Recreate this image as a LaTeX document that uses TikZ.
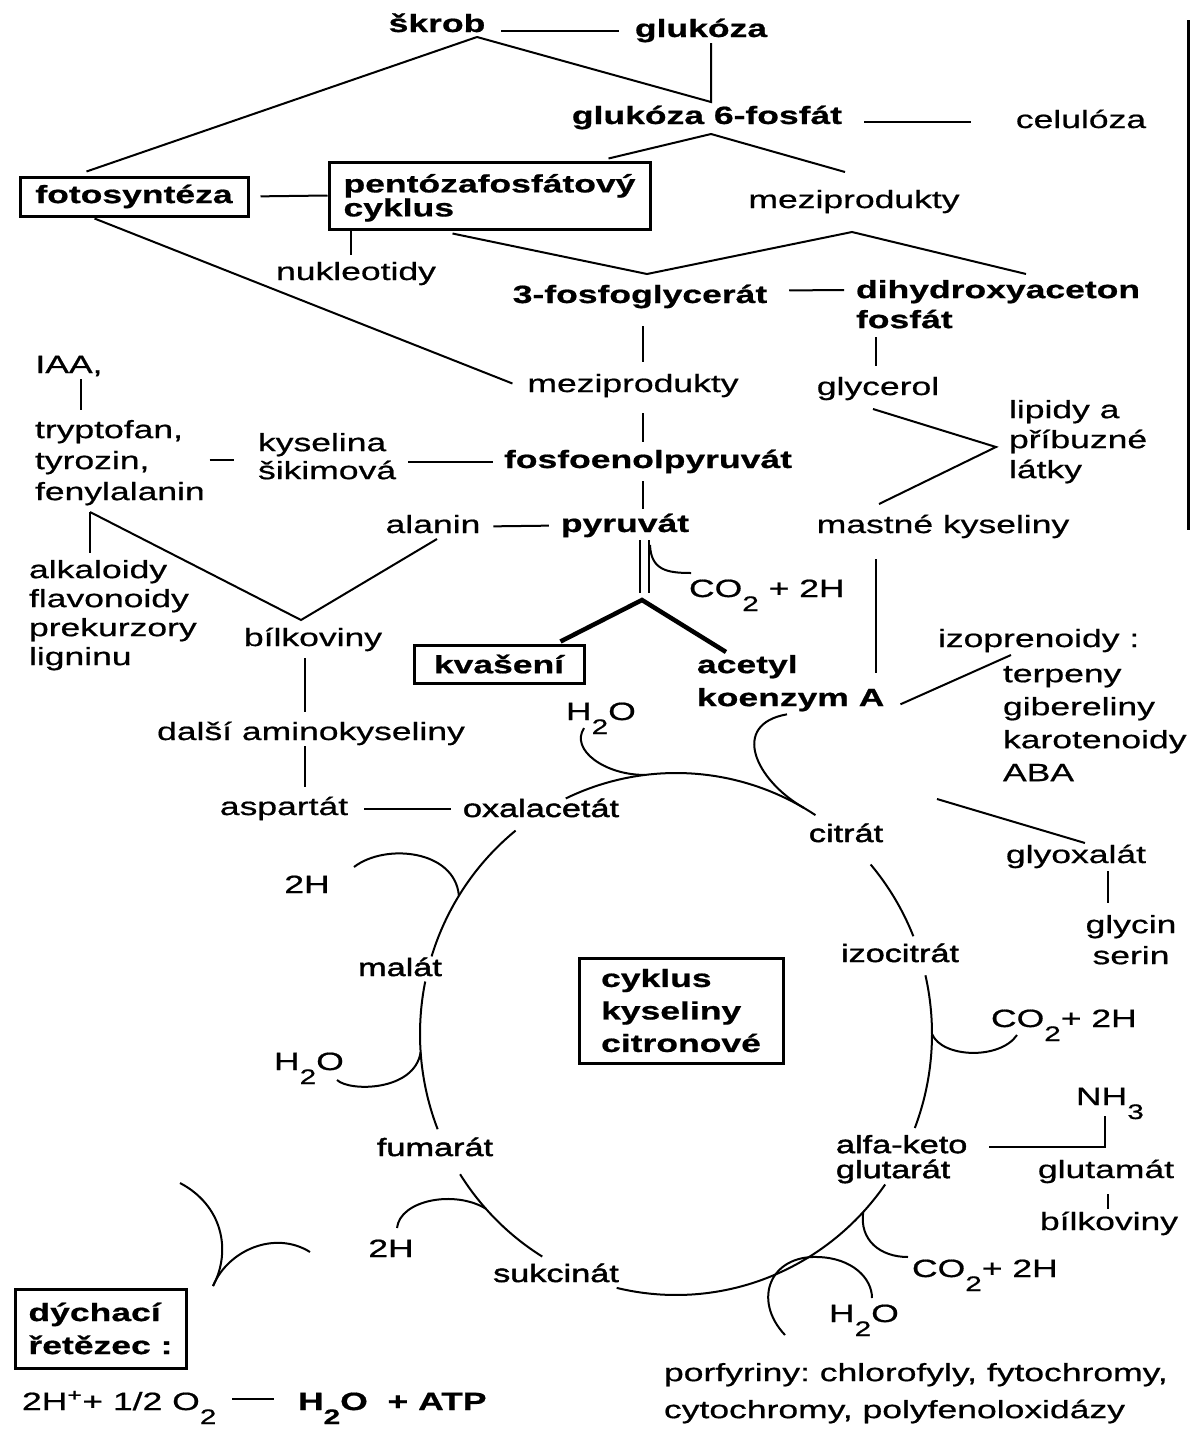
\documentclass[tikz,border=0pt]{standalone}
\usepackage{fontspec}
\setmainfont{Liberation Sans}[FakeStretch=1.42,FakeBold=0.7]
\newfontfamily\cycfont{Liberation Sans}[FakeStretch=1.37,FakeBold=1.8]
\usetikzlibrary{calc}
\frenchspacing

\newcommand{\dolu}[1]{\raisebox{-14pt}{\fontsize{21}{21}\selectfont #1}}

\begin{document}
\begin{tikzpicture}[x=1pt,y=-1pt,line width=2pt,
  txt/.style={inner sep=0pt,text height=18pt,text depth=5pt,anchor=base,
    font=\fontsize{25}{30}\selectfont},
  txtb/.style={txt,font=\fontsize{25}{30}\selectfont\bfseries},
  txtc/.style={txt,font=\cycfont\fontsize{25}{30}\selectfont},
  blk/.style={inner sep=0pt,align=left,anchor=north west,
    font=\fontsize{25}{30}\selectfont},
  blkb/.style={blk,font=\fontsize{25}{30}\selectfont\bfseries},
  blkc/.style={blk,font=\cycfont\fontsize{25}{30}\selectfont},
  cbox/.style={draw,line width=3pt,inner sep=0pt,align=left,
    font=\fontsize{25}{30}\selectfont\bfseries},
  fatconn/.style={line width=4.5pt}]

\fill[white] (0,0) rectangle (1191,1430);
\useasboundingbox (0,0) rectangle (1191,1430);

\def\kcx{676}
\def\kcy{1034}
\def\krx{256}
\def\kry{261}

% top
\node[txtb] (skrob) at (437,32) {škrob};
\node[txtb] (gluk) at (701,37) {glukóza};
\node[txtb] (g6f) at (707,124) {glukóza 6-fosfát};
\node[txt] (celul) at (1081,128) {celulóza};
\node[cbox,minimum width=228pt,minimum height=39pt] (foto) at (134,196.5) {fotosyntéza};
\node[cbox,minimum width=321pt,minimum height=67pt] (pento) at (489.5,195.5) {\rule{0pt}{23pt}pentózafosfátový\\[-6pt]cyklus};
\node[txt] (mezi1) at (854,208) {meziprodukty};
\node[txt] (nukl) at (356,280) {nukleotidy};
\node[txtb] (pg3) at (640,303) {3-fosfoglycerát};
\node[blkb] (dhap) at (855,279) {dihydroxyaceton\\fosfát};

% middle
\node[txt] (iaa) at (69,373) {IAA,};
\node[blk] (trp) at (34,419) {tryptofan,\\[1pt]tyrozin,\\[1pt]fenylalanin};
\node[blk] (kys) at (257,432) {kyselina\\[-2pt]šikimová};
\node[txt] (mezi2) at (633,392) {meziprodukty};
\node[txt] (glyc) at (878,395) {glycerol};
\node[blk] (lip) at (1008,399) {lipidy a\\příbuzné\\látky};
\node[txtb] (pep) at (648,468) {fosfoenolpyruvát};
\node[txt] (alan) at (433,533) {alanin};
\node[txtb] (pyr) at (625,532) {pyruvát};
\node[txt] (mastne) at (943,533) {mastné kyseliny};
\node[blk] (alk) at (28,559) {alkaloidy\\[-1pt]flavonoidy\\[-1pt]prekurzory\\[-1pt]ligninu};
\node[txt,anchor=base west] (co2a) at (688,597) {CO\dolu{2} + 2H};
\node[txt] (bilk1) at (313,646) {bílkoviny};
\node[cbox,minimum width=170pt,minimum height=38pt] (kvas) at (499,664) {kvašení};
\node[blkb] (acet) at (696,654) {acetyl\\[3pt]koenzym A};
\node[txt,anchor=base west] (izop) at (937,647) {izoprenoidy :};
\node[blk] (terp) at (1002,665) {terpeny\\[3pt]gibereliny\\[3pt]karotenoidy\\[3pt]ABA};
\node[txt,anchor=base west] (h2oa) at (565,720) {H\dolu{2}O};
\node[txt] (dalsi) at (311,740) {další aminokyseliny};

% cycle
\node[txt] (asp) at (284,815) {aspartát};
\node[txtc] (oxal) at (541,817) {oxalacetát};
\node[txtc] (citr) at (846,842) {citrát};
\node[txt] (glyox) at (1076,863) {glyoxalát};
\node[blk,align=center,anchor=north] (glycin) at (1131,914) {glycin\\[1pt]serin};
\node[txt] (twoHa) at (307,893) {2H};
\node[txtc] (izoc) at (900,962) {izocitrát};
\node[txtc] (malat) at (400,976) {malát};
\node[cbox,minimum width=204pt,minimum height=105pt] (cykl) at (681,1010.5) {cyklus\\[2.5pt]kyseliny\\[2.5pt]citronové};
\node[txt,anchor=base west] (co2b) at (990,1027) {CO\dolu{2}+ 2H};
\node[txt,anchor=base west] (h2ob) at (273,1070) {H\dolu{2}O};
\node[txt,anchor=base west] (nh3) at (1075,1105) {NH\dolu{3}};
\node[blkc] (akg) at (835,1134) {alfa-keto\\[-5pt]glutarát};
\node[txtc] (fumar) at (435,1156) {fumarát};
\node[txt] (glutam) at (1106,1178) {glutamát};
\node[txt] (bilk2) at (1109,1230) {bílkoviny};
\node[txt] (twoHb) at (391,1257) {2H};
\node[txt,anchor=base west] (co2c) at (911,1277) {CO\dolu{2}+ 2H};
\node[txtc] (sukc) at (556,1282) {sukcinát};
\node[txt,anchor=base west] (h2oc) at (828,1322) {H\dolu{2}O};

% bottom
\node[cbox,minimum width=171pt,minimum height=79pt] (dych) at (100.5,1328.5) {dýchací\\[3pt]řetězec :};
\node[blk] (porf) at (663,1362) {porfyriny: chlorofyly, fytochromy,\\[7pt]cytochromy, polyfenoloxidázy};
\node[txt,anchor=base west] (eql) at (21,1410) {2H\textsuperscript{+}+ 1/2 O\dolu{2}};
\node[txtb,anchor=base west] (eqr) at (297,1410) {H\dolu{2}O \ + ATP};

% junctions
\coordinate (skrobV) at (477,37);
\coordinate (g6fV) at (711,102);
\coordinate (g6fW) at (711,134);
\coordinate (pgV) at (647,274);
\coordinate (dhV) at (852,232);
\coordinate (lipV) at (996,447);
\coordinate (fenV) at (90,512);
\coordinate (bilkV) at (301,620);
\coordinate (pyrV) at (642,600);
\coordinate (nhC) at (1105,1147);
\coordinate (cyc) at (\kcx,\kcy);
\coordinate (dychJ) at (213,1286);
% vertical axes
\coordinate (osaA) at (643,0);
\coordinate (osaB) at (876,0);
\coordinate (osaC) at (81,0);
\coordinate (osaD) at (305,0);
\coordinate (osaE) at (1108,0);

% top lines
\draw[shorten <=15pt,shorten >=15pt] (gluk.west -| skrob.east) -- (gluk.west);
\draw (skrobV) -- ($(foto.north west)+(68,-4)$);
\draw (skrobV) -- (g6fV) -- (g6fV |- gluk.south);
\draw (g6fW) -- ($(pento.north east)+(-43,-2)$);
\draw (g6fW) -- ($(mezi1.north)+(-9,-17)$);
\draw[shorten <=21pt,shorten >=44pt] (celul.west -| g6f.east) -- (celul.west);
\draw[shorten <=11pt] (foto.east) -- (pento.west);
\coordinate (nuklT) at ($(pento.south west)+(23,0)$);
\draw[shorten >=6pt] (nuklT) -- (nuklT |- nukl.north);
\draw ($(pento.south west)+(125,3)$) -- (pgV) -- (dhV) -- ($(dhap.north west)+(171,-5)$);
\draw ($(foto.south west)+(76,1)$) -- ($(mezi2.west)+(-14,-2)$);
\draw[shorten <=21pt,shorten >=11pt] ($(pg3.east)+(0,-6)$) -- ($(dhap.north west)+(0,11)$);

% spine
\draw[shorten <=17pt,shorten >=11pt] (osaA |- pg3.south) -- (osaA |- mezi2.north);
\draw[shorten <=15pt,shorten >=7pt] (osaA |- mezi2.south) -- (osaA |- pep.north);
\draw[shorten <=7pt,shorten >=4pt] (osaA |- pep.south) -- (osaA |- pyr.north);
\draw[shorten <=8pt,shorten >=10pt] (osaB |- dhap.south) -- (osaB |- glyc.north);
\draw ($(glyc.south)+(-5,8)$) -- (lipV) -- ($(mastne.north)+(-64,-10)$);
\draw[shorten <=20pt] (osaB |- mastne.south) -- ($(osaB |- acet.north)+(0,19)$);

% left side
\draw[shorten >=9pt] (osaC |- iaa.south) -- (osaC |- trp.north);
\coordinate (kysY) at ($(kys.west)+(0,4)$);
\draw[shorten <=4pt,shorten >=23pt] (trp.east |- kysY) -- (kysY);
\draw[shorten <=11pt,shorten >=10pt] (kys.east |- pep.west) -- (pep.west);
\draw[shorten <=12pt,shorten >=11pt] (alan.east) -- (pyr.west);
\draw[shorten >=6pt] (fenV) -- (fenV |- alk.north);
\draw (fenV) -- (bilkV) -- ($(alan.south)+(4,0)$);
\draw[shorten <=6pt,shorten >=9pt] (osaD |- bilk1.south) -- (osaD |- dalsi.north);
\draw[shorten >=9pt] (osaD |- dalsi.south) -- (osaD |- asp.north);
\draw[shorten <=15pt,shorten >=11pt] (asp.east) -- (asp.east -| oxal.west);

% pyruvat branch
\draw[double,double distance=7pt] ($(pyrV)+(2,-7)$) -- ($(pyrV)+(2,-60)$);
\draw ($(pyrV)+(8,-55)$) .. controls ($(pyrV)+(9,-30)$) and ($(pyrV)+(25,-27)$) .. ($(co2a.base west)+(3,-24)$);
\draw[fatconn] ($(kvas.north east)+(-25,-2)$) -- (pyrV) -- ($(acet.north west)+(30,-2)$);
\draw ($(acet.south east)+(15,-8)$) -- ($(izop.base west)+(74,8)$);

% citric acid cycle
\foreach \a/\b in {-115.5/-57,-162.7/-128.8,-201.4/-168.4,121.5/147.5,35.2/103.4,-13/21.1,-40.5/-22}
  \draw plot[domain=\a:\b,samples=40,smooth] ({\kcx+\krx*cos(\x)},{\kcy+\kry*sin(\x)});

\draw ($(h2oa.base west)+(19,8)$) .. controls +(-14,22) and +(-40,0) .. ($(cyc)+(-97:256 and 261)$);
\draw ($(acet.south west)+(91,2)$) .. controls +(-57,10) and +(-49,-28) .. ($(cyc)+(-60:256 and 261)$);
\draw ($(cyc)+(0:256 and 261)$) .. controls +(10,24) and +(-17,25) .. ($(co2b.base west)+(27,8)$);
\draw ($(cyc)+(43:256 and 261)$) .. controls +(-4,28) and +(-28,0) .. ($(co2c.base west)+(-3,-20)$);
\draw ($(h2oc.base west)+(-43,13)$) .. controls +(-33,-35) and +(-48,-2) .. ($(h2oc.base west)+(-10,-65)$)
  .. controls +(34,1) and +(0,-20) .. ($(h2oc.base west)+(44,-24)$);
\draw ($(twoHb.base)+(6,-29)$) .. controls +(3,-28) and +(-31,-19) .. ($(cyc)+(138:256 and 261)$);
\draw ($(h2ob.base west)+(64,10)$) .. controls +(13,12) and +(-6,39) .. ($(cyc)+(176:256 and 261)$);
\draw ($(twoHa.base)+(47,-26)$) .. controls +(31,-24) and +(-4,-46) .. ($(cyc)+(-148:256 and 261)$);

% right side
\draw ($(citr.base)+(91,-43)$) -- ($(glyox.base west)+(80,-20)$);
\draw[shorten <=2pt,shorten >=11pt] (osaE |- glyox.south) -- (osaE |- glycin.north);
\draw ($(akg.north east)+(21,13)$) -- (nhC) -- ($(nhC |- nh3.south)+(0,5)$);
\draw[shorten <=10pt,shorten >=2pt] (osaE |- glutam.south) -- (osaE |- bilk2.north);

% respiratory chain
\draw ($(dychJ)+(-33,-103)$) .. controls ($(dychJ)+(9,-81)$) and ($(dychJ)+(19,-36)$) .. (dychJ);
\draw (dychJ) .. controls +(15,-36) and +(-35,-22) .. ($(dychJ)+(97,-34)$);
\draw ($(eqr.base west)+(-65,-11)$) -- ($(eqr.base west)+(-23,-11)$);

% scan edge
\draw[line width=3pt] (1188,20) -- (1188,530);

\end{tikzpicture}
\end{document}
